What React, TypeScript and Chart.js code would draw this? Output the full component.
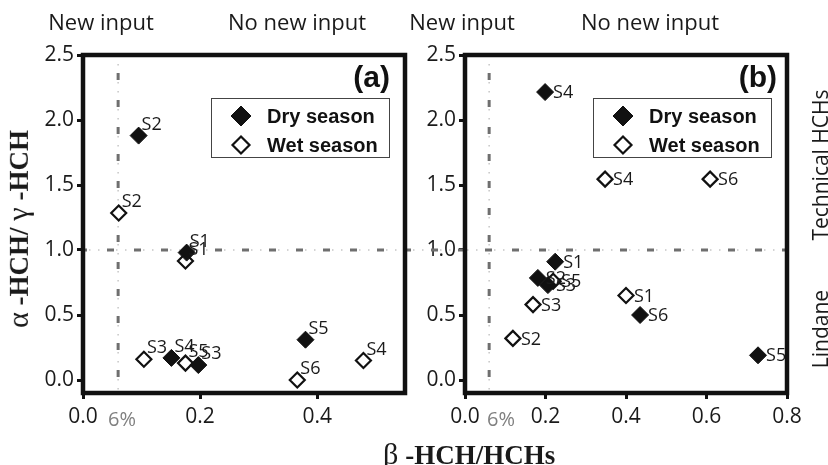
import React, { useEffect, useRef } from 'react';
import { Chart, registerables } from 'chart.js';

Chart.register(...registerables);

// Axis ticks
const yTicks = [0, 0.5, 1.0, 1.5, 2.0, 2.5];
const xTicksA = [0, 0.2, 0.4];
const xTicksB = [0, 0.2, 0.4, 0.6, 0.8];

const seriesNames = ['Dry season', 'Wet season'];

// Guide values: beta-HCH share of 6% and alpha/gamma ratio of 1
const BETA_LIMIT = 0.06;
const RATIO_LIMIT = 1.0;

// Panel (a)
const drySitesA = ['S1', 'S2', 'S3', 'S4', 'S5'];
const dryBetaA = [0.177, 0.095, 0.197, 0.151, 0.38];
const dryRatioA = [0.98, 1.88, 0.115, 0.17, 0.31];
const wetSitesA = ['S1', 'S2', 'S3', 'S4', 'S5', 'S6'];
const wetBetaA = [0.175, 0.061, 0.104, 0.479, 0.175, 0.366];
const wetRatioA = [0.915, 1.285, 0.16, 0.15, 0.13, 0.0];

// Panel (b)
const drySitesB = ['S1', 'S2', 'S3', 'S4', 'S5', 'S6'];
const dryBetaB = [0.224, 0.181, 0.206, 0.199, 0.728, 0.435];
const dryRatioB = [0.91, 0.785, 0.73, 2.215, 0.19, 0.5];
const wetSitesB = ['S1', 'S2', 'S3', 'S4', 'S5', 'S6'];
const wetBetaB = [0.4, 0.119, 0.169, 0.348, 0.219, 0.609];
const wetRatioB = [0.65, 0.32, 0.58, 1.545, 0.76, 1.545];

type Series = { sites: string[]; x: number[]; y: number[] };
type PanelSpec = {
  xMax: number;
  xTicks: number[];
  padLeft: number;
  padRight: number;
  canvasLeft: number;
  labelSide: 'above' | 'right';
  dry: Series;
  wet: Series;
};

const panelA: PanelSpec = {
  xMax: 0.55,
  xTicks: xTicksA,
  padLeft: 43,
  padRight: 9,
  canvasLeft: 0,
  labelSide: 'above',
  dry: { sites: drySitesA, x: dryBetaA, y: dryRatioA },
  wet: { sites: wetSitesA, x: wetBetaA, y: wetRatioA },
};

const panelB: PanelSpec = {
  xMax: 0.8,
  xTicks: xTicksB,
  padLeft: 11,
  padRight: 41,
  canvasLeft: 414,
  labelSide: 'right',
  dry: { sites: drySitesB, x: dryBetaB, y: dryRatioB },
  wet: { sites: wetSitesB, x: wetBetaB, y: wetRatioB },
};

const CANVAS_W = 414;
const CANVAS_H = 465;
const FRAME_ORIGIN = 83;
const SANS = "'Open Sans', 'DejaVu Sans', sans-serif";

function dashDot(ctx: CanvasRenderingContext2D, x0: number, y0: number, x1: number, y1: number, phase: number) {
  ctx.save();
  ctx.beginPath();
  ctx.moveTo(x0, y0);
  ctx.lineTo(x1, y1);
  ctx.strokeStyle = '#c6c6c6';
  ctx.lineWidth = 1.5;
  ctx.setLineDash([1.5, 7.5]);
  ctx.lineDashOffset = phase;
  ctx.stroke();
  ctx.beginPath();
  ctx.moveTo(x0, y0);
  ctx.lineTo(x1, y1);
  ctx.strokeStyle = '#6f6f6f';
  ctx.lineWidth = 3;
  ctx.setLineDash([7, 20]);
  ctx.lineDashOffset = phase;
  ctx.stroke();
  ctx.restore();
}

function diamond(ctx: CanvasRenderingContext2D, x: number, y: number, r: number, fill: string, stroke: string, width: number) {
  ctx.save();
  ctx.beginPath();
  ctx.moveTo(x, y - r);
  ctx.lineTo(x + r, y);
  ctx.lineTo(x, y + r);
  ctx.lineTo(x - r, y);
  ctx.closePath();
  ctx.fillStyle = fill;
  ctx.fill();
  ctx.lineWidth = width;
  ctx.strokeStyle = stroke;
  ctx.lineJoin = 'miter';
  ctx.stroke();
  ctx.restore();
}

const guidePlugin = {
  id: 'guides',
  beforeDatasetsDraw(chart: any, _args: any, opts: any) {
    const { ctx, chartArea: a, scales } = chart;
    const gx = scales.x.getPixelForValue(BETA_LIMIT);
    const gy = scales.y.getPixelForValue(RATIO_LIMIT);
    // horizontal guide runs continuously across both panels
    const hx0 = opts.canvasLeft === 0 ? a.left : 0;
    const hx1 = opts.canvasLeft === 0 ? chart.width : a.right;
    dashDot(ctx, hx0, gy, hx1, gy, 3 + opts.canvasLeft + hx0 - FRAME_ORIGIN);
    dashDot(ctx, gx, a.top, gx, a.bottom, 9);
  },
};

const marksPlugin = {
  id: 'marks',
  afterDatasetsDraw(chart: any, _args: any, opts: any) {
    const { ctx, chartArea: a } = chart;
    // site labels
    ctx.save();
    ctx.font = `18px ${SANS}`;
    ctx.fillStyle = '#1a1a1a';
    ctx.textAlign = 'left';
    chart.data.datasets.forEach((ds: any, di: number) => {
      const meta = chart.getDatasetMeta(di);
      meta.data.forEach((pt: any, i: number) => {
        const text = ds.siteLabels[i];
        if (opts.labelSide === 'above') {
          ctx.textBaseline = 'alphabetic';
          ctx.fillText(text, pt.x + 3, pt.y - 6);
        } else {
          ctx.textBaseline = 'middle';
          ctx.fillText(text, pt.x + 8, pt.y + 1);
        }
      });
    });
    ctx.restore();

    // frame
    ctx.save();
    ctx.strokeStyle = '#111';
    ctx.lineWidth = 4.5;
    ctx.setLineDash([]);
    ctx.strokeRect(a.left, a.top, a.right - a.left, a.bottom - a.top);
    ctx.restore();

    // legend box
    const bx = a.right - 194;
    const by = a.top + 43;
    const bw = 178;
    const bh = 59;
    ctx.save();
    ctx.fillStyle = '#fff';
    ctx.fillRect(bx, by, bw, bh);
    ctx.strokeStyle = '#444';
    ctx.lineWidth = 1;
    ctx.strokeRect(bx + 0.5, by + 0.5, bw, bh);
    chart.data.datasets.forEach((ds: any, i: number) => {
      const cy = by + 18 + i * 29;
      const cx = bx + 30;
      if (i === 0) diamond(ctx, cx, cy, 10, ds.backgroundColor, ds.borderColor, 1);
      else diamond(ctx, cx, cy, 8.5, ds.backgroundColor, ds.borderColor, 2.2);
      ctx.font = "bold 20px 'Liberation Sans', Arial, sans-serif";
      ctx.fillStyle = '#111';
      ctx.textBaseline = 'middle';
      ctx.textAlign = 'left';
      ctx.fillText(ds.label, bx + 56, cy + 1);
    });
    ctx.restore();
  },
};

function buildConfig(p: PanelSpec): any {
  const tickFont = { family: SANS, size: 21 };
  const gridOpts = {
    drawOnChartArea: false,
    drawTicks: true,
    tickLength: 6,
    tickWidth: 3,
    tickColor: '#111',
  };
  return {
    type: 'scatter',
    data: {
      datasets: [
        {
          label: seriesNames[0],
          data: p.dry.x.map((x, i) => ({ x, y: p.dry.y[i] })),
          siteLabels: p.dry.sites,
          pointStyle: 'rectRot',
          pointRadius: 8.5,
          backgroundColor: '#111',
          borderColor: '#111',
          borderWidth: 1,
        },
        {
          label: seriesNames[1],
          data: p.wet.x.map((x, i) => ({ x, y: p.wet.y[i] })),
          siteLabels: p.wet.sites,
          pointStyle: 'rectRot',
          pointRadius: 7.5,
          backgroundColor: '#fff',
          borderColor: '#111',
          borderWidth: 2.2,
        },
      ],
    },
    options: {
      responsive: false,
      animation: false,
      events: [],
      layout: {
        autoPadding: false,
        padding: { left: p.padLeft, right: p.padRight, top: 55, bottom: 32 },
      },
      scales: {
        x: {
          type: 'linear',
          min: 0,
          max: p.xMax,
          afterFit: (s: any) => {
            s.height = 40;
          },
          afterBuildTicks: (s: any) => {
            s.ticks = p.xTicks.map((v) => ({ value: v }));
          },
          grid: gridOpts,
          border: { display: false },
          ticks: {
            padding: 5,
            color: '#1a1a1a',
            font: tickFont,
            maxRotation: 0,
            autoSkip: false,
            callback: (v: any) => Number(v).toFixed(1),
          },
        },
        y: {
          type: 'linear',
          min: -0.1,
          max: 2.5,
          afterFit: (s: any) => {
            s.width = 40;
          },
          afterBuildTicks: (s: any) => {
            s.ticks = yTicks.map((v) => ({ value: v }));
          },
          grid: gridOpts,
          border: { display: false },
          ticks: {
            padding: 3,
            color: '#1a1a1a',
            font: tickFont,
            autoSkip: false,
            callback: (v: any) => Number(v).toFixed(1),
          },
        },
      },
      plugins: {
        legend: { display: false },
        tooltip: { enabled: false },
        guides: { canvasLeft: p.canvasLeft },
        marks: { labelSide: p.labelSide },
      },
    },
    plugins: [guidePlugin, marksPlugin],
  };
}

const textBase: React.CSSProperties = {
  position: 'absolute',
  whiteSpace: 'nowrap',
  lineHeight: 1,
  color: '#1a1a1a',
};

function Label(props: { x: number; top: number; size?: number; color?: string; children: React.ReactNode }) {
  return (
    <div
      style={{
        ...textBase,
        left: props.x,
        top: props.top,
        transform: 'translateX(-50%)',
        fontFamily: SANS,
        fontSize: props.size ?? 22,
        color: props.color ?? '#1a1a1a',
      }}
    >
      {props.children}
    </div>
  );
}

function Vertical(props: { x: number; y: number; style?: React.CSSProperties; children: React.ReactNode }) {
  return (
    <div
      style={{
        ...textBase,
        left: props.x,
        top: props.y,
        transform: 'translate(-50%, -50%) rotate(-90deg)',
        ...props.style,
      }}
    >
      {props.children}
    </div>
  );
}

const greek: React.CSSProperties = { fontWeight: 'normal', fontSize: '1.12em' };
const serifTitle: React.CSSProperties = {
  fontFamily: "'Liberation Serif', 'Times New Roman', serif",
  fontWeight: 'bold',
  fontSize: 27,
};
const tagStyle: React.CSSProperties = {
  ...textBase,
  top: 62,
  fontFamily: "'Liberation Sans', Arial, sans-serif",
  fontWeight: 'bold',
  fontSize: 30,
  color: '#111',
};

export default function App() {
  const leftRef = useRef<HTMLCanvasElement>(null);
  const rightRef = useRef<HTMLCanvasElement>(null);

  useEffect(() => {
    const charts = [
      new Chart(leftRef.current as HTMLCanvasElement, buildConfig(panelA)),
      new Chart(rightRef.current as HTMLCanvasElement, buildConfig(panelB)),
    ];
    return () => charts.forEach((c) => c.destroy());
  }, []);

  return (
    <div
      style={{
        position: 'absolute',
        left: 0,
        top: 0,
        width: 828,
        height: 465,
        background: '#fff',
        overflow: 'hidden',
      }}
    >
      <canvas
        ref={leftRef}
        width={CANVAS_W}
        height={CANVAS_H}
        style={{ position: 'absolute', left: 0, top: 0, width: CANVAS_W, height: CANVAS_H }}
      />
      <canvas
        ref={rightRef}
        width={CANVAS_W}
        height={CANVAS_H}
        style={{ position: 'absolute', left: CANVAS_W, top: 0, width: CANVAS_W, height: CANVAS_H }}
      />

      <Label x={101} top={10}>New input</Label>
      <Label x={297} top={10}>No new input</Label>
      <Label x={462} top={10}>New input</Label>
      <Label x={650} top={10}>No new input</Label>

      <Label x={122} top={409} size={20} color="#808080">6%</Label>
      <Label x={501} top={409} size={20} color="#808080">6%</Label>

      <div style={{ ...tagStyle, right: 828 - 390 }}>(a)</div>
      <div style={{ ...tagStyle, right: 828 - 777 }}>(b)</div>

      <Vertical x={18} y={229} style={serifTitle}>
        <span style={greek}>α</span> -HCH/ <span style={greek}>γ</span> -HCH
      </Vertical>
      <div style={{ ...textBase, ...serifTitle, left: 383, top: 439 }}>
        <span style={greek}>β</span> -HCH/HCHs
      </div>

      <Vertical x={820} y={165} style={{ fontFamily: SANS, fontSize: 21 }}>
        Technical HCHs
      </Vertical>
      <Vertical x={820} y={329} style={{ fontFamily: SANS, fontSize: 21 }}>
        Lindane
      </Vertical>
    </div>
  );
}
